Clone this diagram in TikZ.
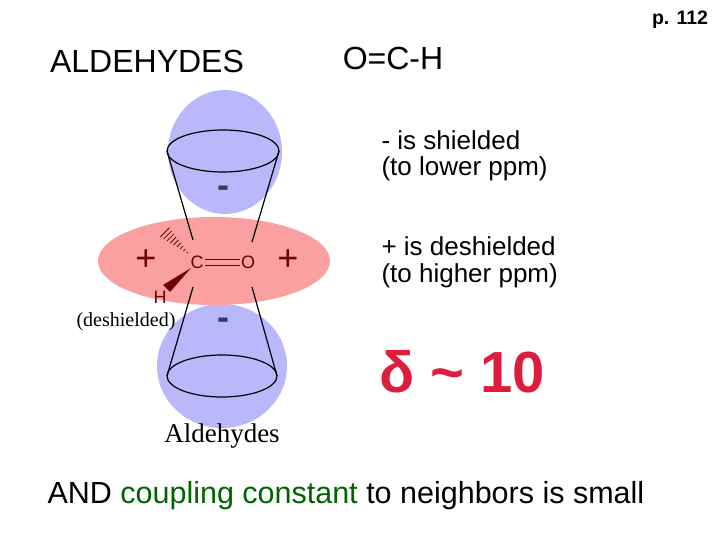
\documentclass[tikz,border=0pt]{standalone}
\usepackage{fontspec}
\usetikzlibrary{calc}
\setmainfont{Liberation Sans}
\newfontfamily\serifx{Liberation Serif}
\begin{document}
\begin{tikzpicture}[x=1pt,y=-1pt,
  blob/.style={fill={rgb,255:red,184;green,184;blue,250},draw=none},
  cone/.style={draw=black,line width=1.2pt},
  chem/.style={text={rgb,255:red,110;green,0;blue,0},font=\fontsize{18}{20}\selectfont},
  sign/.style={text={rgb,255:red,110;green,0;blue,0},font=\fontsize{36}{36}\selectfont},
  minus/.style={font=\fontsize{36}{36}\selectfont\bfseries,text={rgb,255:red,60;green,60;blue,90}},
  body/.style={anchor=west,font=\fontsize{26}{30}\selectfont}]
\useasboundingbox (0,0) rectangle (720,540);
\fill[blob] (225,152) ellipse (57 and 62);
\fill[blob] (222,366) ellipse (65 and 62);
\fill[fill={rgb,255:red,250;green,160;blue,160}] (214,261) ellipse (116 and 44);
% cones
\draw[cone] (223,151) ellipse (56 and 21);
\draw[cone] (222,376) ellipse (55 and 21);
\coordinate (t1) at (193,240); \coordinate (t2) at (252,242);
\coordinate (b1) at (193,287); \coordinate (b2) at (252,287);
\draw[cone] (167,151) -- (t1); \draw[cone] (279,151) -- (t2);
\draw[cone] (167,376) -- (b1); \draw[cone] (277,376) -- (b2);
% molecule
\node[chem] (C) at (197,262) {C};
\node[chem] (O) at (248,262) {O};
\node[chem] (H) at (160,297) {H};
\draw[draw={rgb,255:red,110;green,0;blue,0},line width=1pt] (205,259) -- (240,259) (205,265) -- (240,265);
\coordinate (hz) at (162,230);
\foreach \t in {0.1,0.2,...,0.95}{
  \draw[draw={rgb,255:red,110;green,0;blue,0},line width=0.8pt]
    ($(190,255)!\t!(hz)+(-\t*5,\t*5)$) -- ($(190,255)!\t!(hz)+(\t*5,-\t*5)$);
}
\fill[fill={rgb,255:red,110;green,0;blue,0}] (191,268) -- (163,285) -- (170,292) -- cycle;
\node[sign] (p1) at (146,260) {+};
\node[sign] (p2) at (288,260) {+};
\node[minus] (m1) at (223,192) {-};
\node[minus] (m2) at (223,324) {-};
\node[font=\serifx\fontsize{20}{22}\selectfont] (desh) at (126,322) {(deshielded)};
\node[font=\serifx\fontsize{27}{30}\selectfont] (ald) at (222,436) {Aldehydes};
% texts
\node[font=\fontsize{32}{34}\selectfont] (title) at (147,61) {ALDEHYDES};
\node[font=\fontsize{32}{34}\selectfont] (form) at (393,58) {O=C-H};
\node[font=\fontsize{19.5}{22}\selectfont\bfseries] (page) at (680,20) {p. 112};
\node[body] (s1) at (378,140) {- is shielded};
\node[body] (s2) at (378,169) {(to lower ppm)};
\node[body] (s3) at (378,246) {+ is deshielded};
\node[body] (s4) at (378,276) {(to higher ppm)};
\node[anchor=west,font=\fontsize{58}{60}\selectfont\bfseries,text={rgb,255:red,220;green,30;blue,60}] (delta) at (376,372) {δ \textasciitilde{} 10};
\node[anchor=west,font=\fontsize{30.5}{34}\selectfont] (bottom) at (44,496) {AND \textcolor[RGB]{0,100,0}{coupling constant} to neighbors is small};
\end{tikzpicture}
\end{document}
